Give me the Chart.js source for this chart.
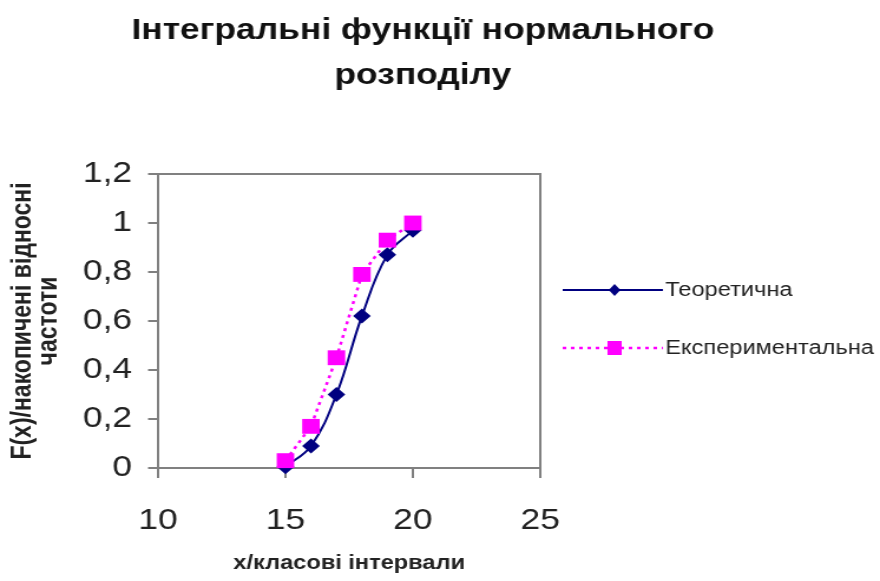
<!DOCTYPE html>
<html>
<head>
<meta charset="utf-8">
<script src="https://cdn.jsdelivr.net/npm/chart.js@4"></script>
<style>
    html, body { margin: 0; padding: 0; background: #fff; overflow: hidden; }
    /* the reference is a horizontally stretched Excel chart, so stretch ours the same way */
    #wrap { width: 746px; height: 581px; transform: scaleX(1.1796); transform-origin: 0 0; }
</style>
</head>
<body>
<div id="wrap"><canvas id="chart"></canvas></div>
<script>
// data
const xValues = [15, 16, 17, 18, 19, 20];
const theoretical = [0.005, 0.09, 0.30, 0.62, 0.87, 0.97];
const experimental = [0.03, 0.17, 0.45, 0.79, 0.93, 1.0];
const xTicks = [10, 15, 20, 25];
const yTicks = [0, 0.2, 0.4, 0.6, 0.8, 1, 1.2];
const seriesNames = ['Теоретична', 'Експериментальна'];

const FONT = "'Liberation Sans', Arial, sans-serif";
const AXIS = '#808080';

function comma(v) {
    return String(v).replace('.', ',');
}

function toPoints(ys) {
    return xValues.map((x, i) => ({ x: x, y: ys[i] }));
}

// grey frame around the plot area (Excel style)
const frame = {
    id: 'frame',
    beforeDatasetsDraw(chart) {
        const a = chart.chartArea;
        const c = chart.ctx;
        c.save();
        c.strokeStyle = AXIS;
        c.lineWidth = 2;
        c.strokeRect(a.left, a.top, a.right - a.left, a.bottom - a.top);
        c.restore();
    }
};

// legend with line + marker, like Excel
const sideLegend = {
    id: 'sideLegend',
    afterDraw(chart) {
        const c = chart.ctx;
        const rows = [290, 348];
        chart.data.datasets.forEach(function (ds, i) {
            const y = rows[i];
            c.save();
            c.strokeStyle = ds.borderColor;
            c.lineWidth = ds.borderWidth;
            c.setLineDash(ds.borderDash || []);
            c.beginPath();
            c.moveTo(477, y);
            c.lineTo(562, y);
            c.stroke();
            c.setLineDash([]);
            c.fillStyle = ds.backgroundColor;
            c.beginPath();
            if (ds.pointStyle === 'rectRot') {
                c.moveTo(521, y - 6);
                c.lineTo(526, y);
                c.lineTo(521, y + 6);
                c.lineTo(516, y);
            } else {
                c.rect(515, y - 7, 12, 14);
            }
            c.closePath();
            c.fill();
            c.fillStyle = '#222';
            c.font = '20px ' + FONT;
            c.textBaseline = 'middle';
            c.textAlign = 'left';
            c.fillText(ds.label, 564, y);
            c.restore();
        });
    }
};

new Chart(document.getElementById('chart'), {
    type: 'scatter',
    data: {
        datasets: [{
            label: seriesNames[0],
            data: toPoints(theoretical),
            showLine: true,
            borderColor: '#000080',
            backgroundColor: '#000080',
            borderWidth: 2,
            tension: 0.4,
            pointStyle: 'rectRot',
            pointRadius: 7.5,
            pointBorderWidth: 0,
            clip: false,
            order: 1
        }, {
            label: seriesNames[1],
            data: toPoints(experimental),
            showLine: true,
            borderColor: '#ff00ff',
            backgroundColor: '#ff00ff',
            borderWidth: 2.5,
            borderDash: [3, 4],
            tension: 0,
            pointStyle: 'rect',
            pointRadius: 10.5,
            pointBorderWidth: 0,
            clip: false,
            order: 0
        }]
    },
    options: {
        responsive: true,
        maintainAspectRatio: false,
        animation: false,
        layout: { padding: { left: 0, right: 29, top: 0, bottom: 6 } },
        plugins: {
            legend: { display: false },
            tooltip: { enabled: false },
            title: {
                display: true,
                text: ['Інтегральні функції нормального', 'розподілу'],
                color: '#111',
                font: { family: FONT, size: 30, weight: 'bold', lineHeight: 1.5 },
                padding: { top: 8, bottom: 76 }
            }
        },
        scales: {
            x: {
                type: 'linear',
                position: 'bottom',
                min: 10,
                max: 25,
                afterBuildTicks: s => { s.ticks = xTicks.map(v => ({ value: v })); },
                afterFit: s => { s.height = 107; },
                grid: { drawOnChartArea: false, drawTicks: true, tickLength: 10, color: AXIS, lineWidth: 2 },
                border: { color: AXIS, width: 2 },
                ticks: {
                    color: '#222',
                    font: { family: FONT, size: 30 },
                    padding: 25,
                    maxRotation: 0,
                    autoSkip: false,
                    callback: v => comma(v)
                },
                title: {
                    display: true,
                    text: 'х/класові інтервали',
                    color: '#222',
                    font: { family: FONT, size: 20, weight: 'bold', lineHeight: 1.2 },
                    padding: { top: 0, bottom: 0 }
                }
            },
            y: {
                type: 'linear',
                position: 'left',
                min: 0,
                max: 1.2,
                afterBuildTicks: s => { s.ticks = yTicks.map(v => ({ value: v })); },
                afterFit: s => { s.width = 134; },
                grid: { drawOnChartArea: false, drawTicks: true, tickLength: 8.5, color: AXIS, lineWidth: 2 },
                border: { color: AXIS, width: 1.7 },
                ticks: {
                    color: '#222',
                    font: { family: FONT, size: 30 },
                    padding: 13.5,
                    autoSkip: false,
                    callback: v => comma(v)
                },
                title: {
                    display: true,
                    text: ['F(x)/накопичені відносні', 'частоти'],
                    color: '#222',
                    font: { family: FONT, size: 23, weight: 'bold', lineHeight: 0.96 },
                    padding: { top: 9, bottom: 0 }
                }
            },
            // empty right axis only keeps room for the legend
            side: {
                type: 'linear',
                position: 'right',
                min: 0,
                max: 1,
                afterFit: s => { s.width = 259; },
                grid: { display: false },
                border: { display: false },
                ticks: { display: false }
            }
        }
    },
    plugins: [frame, sideLegend]
});
</script>
</body>
</html>
